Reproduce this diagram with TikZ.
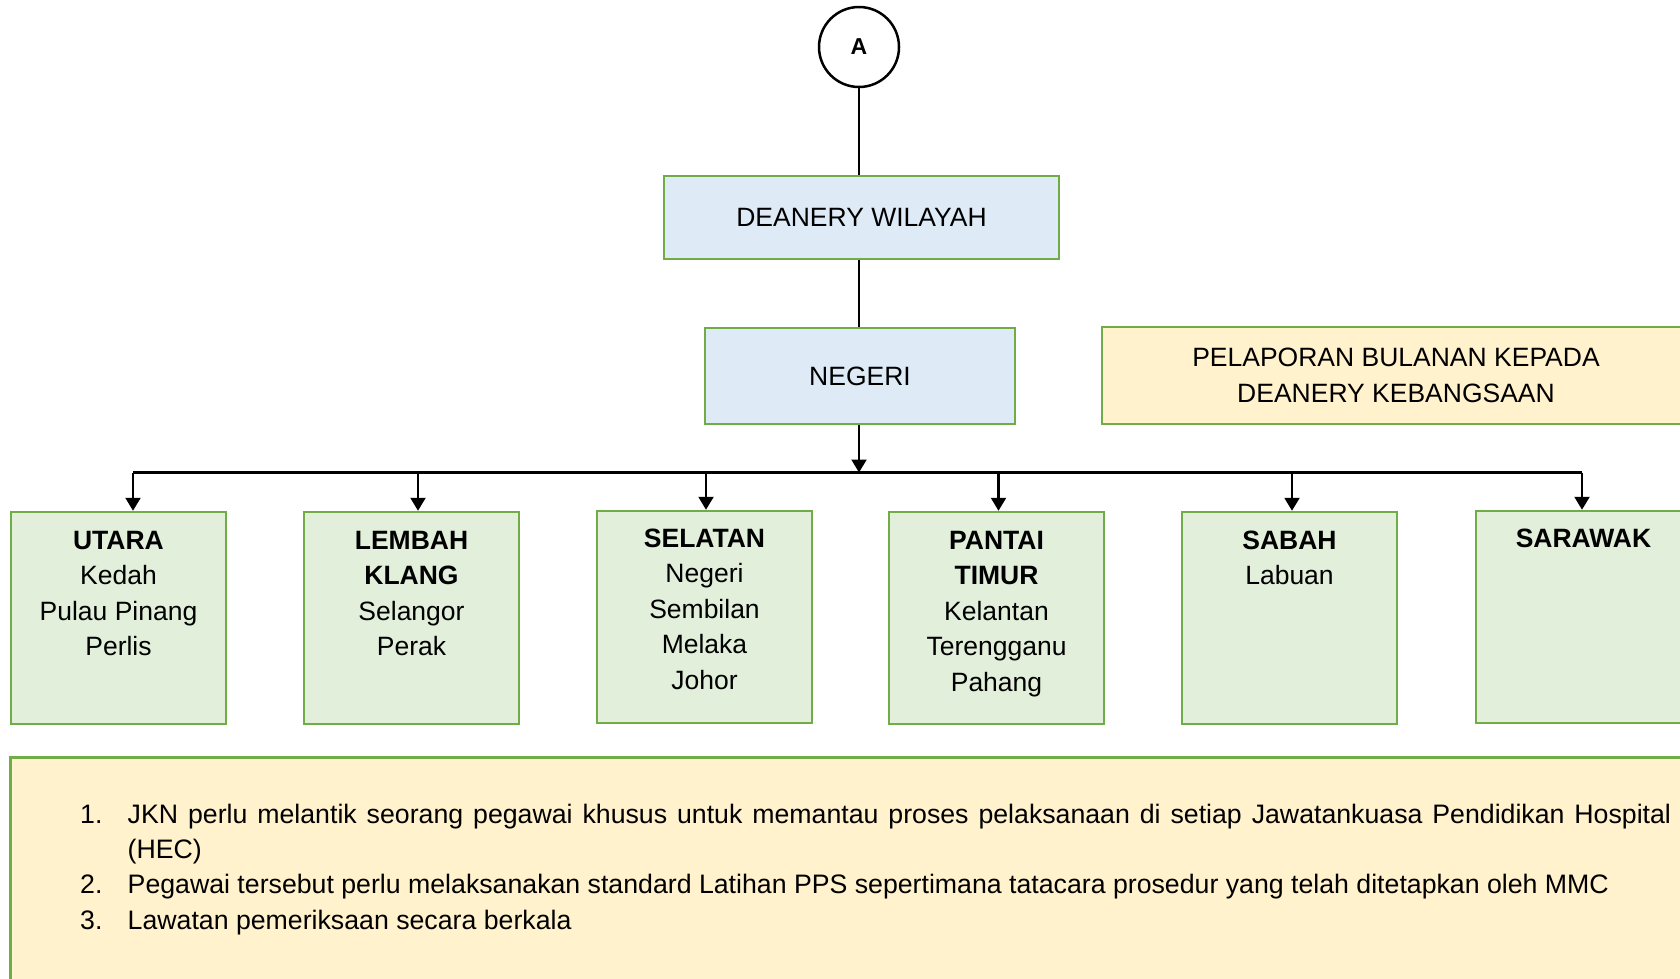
\documentclass[tikz,border=0pt]{standalone}
\usepackage{fontspec}
\setmainfont{Liberation Sans}
\usetikzlibrary{arrows.meta}
\definecolor{edgegreen}{HTML}{70AD47}
\definecolor{regionfill}{HTML}{E2EFDA}
\definecolor{levelfill}{HTML}{DEEBF7}
\definecolor{notefill}{HTML}{FFF2CC}
\newcommand{\bodyfont}{\fontsize{26.5}{35.4}\selectfont}
\newcommand{\notefont}{\fontsize{26.7}{35.4}\selectfont}
\newcommand{\itemlabel}[1]{\makebox[0pt][r]{\makebox[47.5pt][l]{#1}}}
\begin{document}
\begin{tikzpicture}[x=1pt,y=-1pt,
  box/.style={draw=edgegreen, line width=2.5pt, inner sep=0pt},
  level/.style={box, fill=levelfill, font=\bodyfont},
  region/.style={box, fill=regionfill, minimum width=215pt, minimum height=212pt},
  rtext/.style={inner sep=0pt, align=center, font=\bodyfont, anchor=base},
  conn/.style={line width=2.2pt, black},
  arr/.style={conn, -{Triangle[width=15pt,length=13pt]}}]
\useasboundingbox (0,0) rectangle (1680,978);
\clip (0,0) rectangle (1680,978);

% connector circle
\node[draw, circle, line width=2.5pt, minimum size=80pt, inner sep=0pt,
      font=\fontsize{23}{26}\selectfont\bfseries] (A) at (859,47) {A};

% levels
\node[level, minimum width=395pt, minimum height=83pt] (dw) at (861.5,217.5) {DEANERY WILAYAH};
\node[level, minimum width=310pt, minimum height=96pt] (ng) at (860,376) {NEGERI};
\node[box, fill=notefill, minimum width=588pt, minimum height=97pt,
      align=center, font=\bodyfont] (pel) at (1396,375.5)
      {PELAPORAN BULANAN KEPADA\\DEANERY KEBANGSAAN};

\draw[conn] (A.south) -- (A.south |- dw.north);
\draw[conn] (A.south |- dw.south) -- (A.south |- ng.north);

% regional boxes
\node[region] (r1) at (118.5,618) {};
\node[region] (r2) at (411.5,618) {};
\node[region] (r3) at (704.5,617) {};
\node[region] (r4) at (996.5,618) {};
\node[region] (r5) at (1289.5,618) {};
\node[region] (r6) at (1583.5,617) {};

% region labels (anchored on the baseline of their last line)
\node[rtext] (t1) at (118.5,655.7) {\textbf{UTARA}\\Kedah\\Pulau Pinang\\Perlis};
\node[rtext] (t2) at (411.5,655.7) {\textbf{LEMBAH}\\\textbf{KLANG}\\Selangor\\Perak};
\node[rtext] (t3) at (704.5,689.1) {\textbf{SELATAN}\\Negeri\\Sembilan\\Melaka\\Johor};
\node[rtext] (t4) at (996.5,691.1) {\textbf{PANTAI}\\\textbf{TIMUR}\\Kelantan\\Terengganu\\Pahang};
\node[rtext] (t5) at (1289.5,584.9) {\textbf{SABAH}\\Labuan};
\node[rtext] (t6) at (1583.5,547.5) {\textbf{SARAWAK}};

% distribution bus
\coordinate (b1) at (133,472.5);
\coordinate (b2) at (418,472.5);
\coordinate (b3) at (706,472.5);
\coordinate (b4) at (998.5,472.5);
\coordinate (b5) at (1292,472.5);
\coordinate (b6) at (1582,472.5);
\draw[arr] (A.south |- ng.south) -- (A.south |- b1);
\draw[conn] (b1) -- (b6);
\draw[arr] (b1) -- (b1 |- r1.north);
\draw[arr] (b2) -- (b2 |- r2.north);
\draw[arr] (b3) -- (b3 |- r3.north);
\draw[arr] (b4) -- (b4 |- r4.north);
\draw[arr] (b5) -- (b5 |- r5.north);
\draw[arr] (b6) -- (b6 |- r6.north);

% notes
\node[box, fill=notefill, minimum width=1700pt, minimum height=260pt,
      anchor=north west] (notebox) at (9,756) {};
\node[anchor=base west, text width=1543.5pt, align=justify, inner sep=0pt, font=\notefont] (notes) at (127.5,823)
{\parindent=0pt\parskip=0pt
\itemlabel{1.}JKN perlu melantik seorang pegawai khusus untuk memantau proses pelaksanaan di setiap Jawatankuasa Pendidikan Hospital\linebreak (HEC)\par
\itemlabel{2.}Pegawai tersebut perlu melaksanakan standard Latihan PPS sepertimana tatacara prosedur yang telah ditetapkan oleh MMC\par
\itemlabel{3.}Lawatan pemeriksaan secara berkala\par};
\end{tikzpicture}
\end{document}
